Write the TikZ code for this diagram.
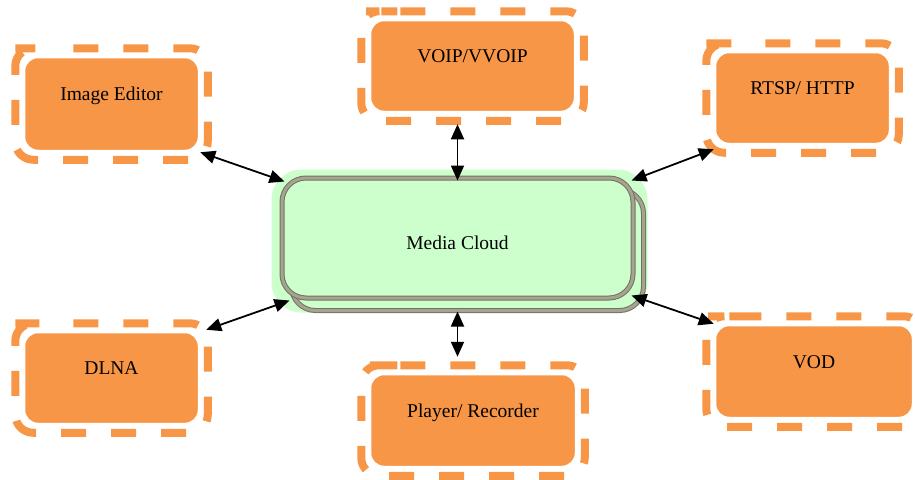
\documentclass[tikz,border=0pt]{standalone}
\usepackage{fontspec}
\setmainfont{Liberation Serif}
\usetikzlibrary{arrows.meta,calc}
\definecolor{boxorange}{HTML}{F79646}
\definecolor{cloudgreen}{HTML}{CCFFCC}
\definecolor{rimgray}{HTML}{727260}
\definecolor{rimlight}{HTML}{A4A490}
\pgfdeclarelayer{back}
\pgfdeclarelayer{mid}
\pgfsetlayers{back,mid,main}
\begin{document}
\begin{tikzpicture}[x=1pt,y=-1pt,
  service/.style={rectangle, rounded corners=14pt, fill=boxorange, draw=white,
    line width=2.5pt, inner sep=0pt, font=\fontsize{19.5}{22}\selectfont,
    text height=13pt, text depth=20pt},
  dashframe/.style={draw=boxorange, line width=8pt, rounded corners=18pt,
    dash pattern=on 25pt off 25pt},
  link/.style={line width=1.8pt,
    {Triangle[length=15pt,width=13pt]}-{Triangle[length=15pt,width=13pt]}},
  rim/.style={draw=rimgray, double=rimlight, double distance=3pt,
    line width=1pt, rounded corners=24pt}
]
\useasboundingbox (0,0) rectangle (915,479);

% central cloud
\node[rim, fill=cloudgreen, minimum width=351pt, minimum height=120pt,
  inner sep=0pt, font=\fontsize{19.5}{22}\selectfont,
  text height=23pt, text depth=0pt] (mc) at (457.5,238) {Media Cloud};

% services around it
\node[service, minimum width=175pt, minimum height=94pt] (ie) at (111.5,104) {Image Editor};
\node[service, minimum width=205pt, minimum height=92pt] (voip) at (472.5,66) {VOIP/VVOIP};
\node[service, minimum width=175pt, minimum height=92pt] (rt) at (802.5,98) {RTSP/ HTTP};
\node[service, minimum width=175pt, minimum height=92pt] (dl) at (111.5,378) {DLNA};
\node[service, minimum width=206pt, minimum height=93pt] (pr) at (473,420.5) {Player/ Recorder};
\node[service, minimum width=198pt, minimum height=93pt] (vd) at (814,371.5) {VOD};

% dashed outlines behind the services, glow behind the cloud
\begin{pgfonlayer}{back}
  \foreach \n/\ph in {ie/28,voip/47,rt/27,dl/28,pr/47,vd/6}{
    \path ([shift={(-7.5,-7.5)}]\n.north west) coordinate (fa)
          ([shift={(7.5,7.5)}]\n.south east) coordinate (fc);
    \draw[dashframe, dash phase=\ph] ($(fa)+(18,0)$) -- (fa -| fc) -- (fc)
      -- (fa |- fc) -- (fa) -- cycle;
  }
  \fill[cloudgreen, rounded corners=30pt]
    ([shift={(-10,-8)}]mc.north west) rectangle ([shift={(14,14)}]mc.south east);
\end{pgfonlayer}
\begin{pgfonlayer}{mid}
  \draw[rim] ([shift={(10,12)}]mc.north west) rectangle ([shift={(10,12)}]mc.south east);
\end{pgfonlayer}

% connector ends
\coordinate (voipfoot) at ($(mc.north |- voip.south)+(0,11)$);
\coordinate (mctop) at ($(mc.north)+(0,3)$);
\coordinate (mcfoot) at ($(mc.south)+(0,13)$);
\coordinate (prhead) at ($(mc.south |- pr.north)+(0,-16)$);
\coordinate (rtend) at ($(rt.south west)+(0,4)$);
\coordinate (mcne) at ($(mc.north east)+(-2,3)$);
\coordinate (dlend) at ($(dl.north east)+(6,-1)$);
\coordinate (mcsw) at ($(mc.south west)+(8,2)$);
\coordinate (mcse) at ($(mc.south east)+(-2,-3)$);
\coordinate (mcnw) at ($(mc.north west)+(3,4)$);

\draw[link] (ie.south east) -- (mcnw);
\draw[link] (voipfoot) -- (mctop);
\draw[link] (rtend) -- (mcne);
\draw[link] (dlend) -- (mcsw);
\draw[link] (mcfoot) -- (prhead);
\draw[link] (mcse) -- (vd.north west);
\end{tikzpicture}
\end{document}
